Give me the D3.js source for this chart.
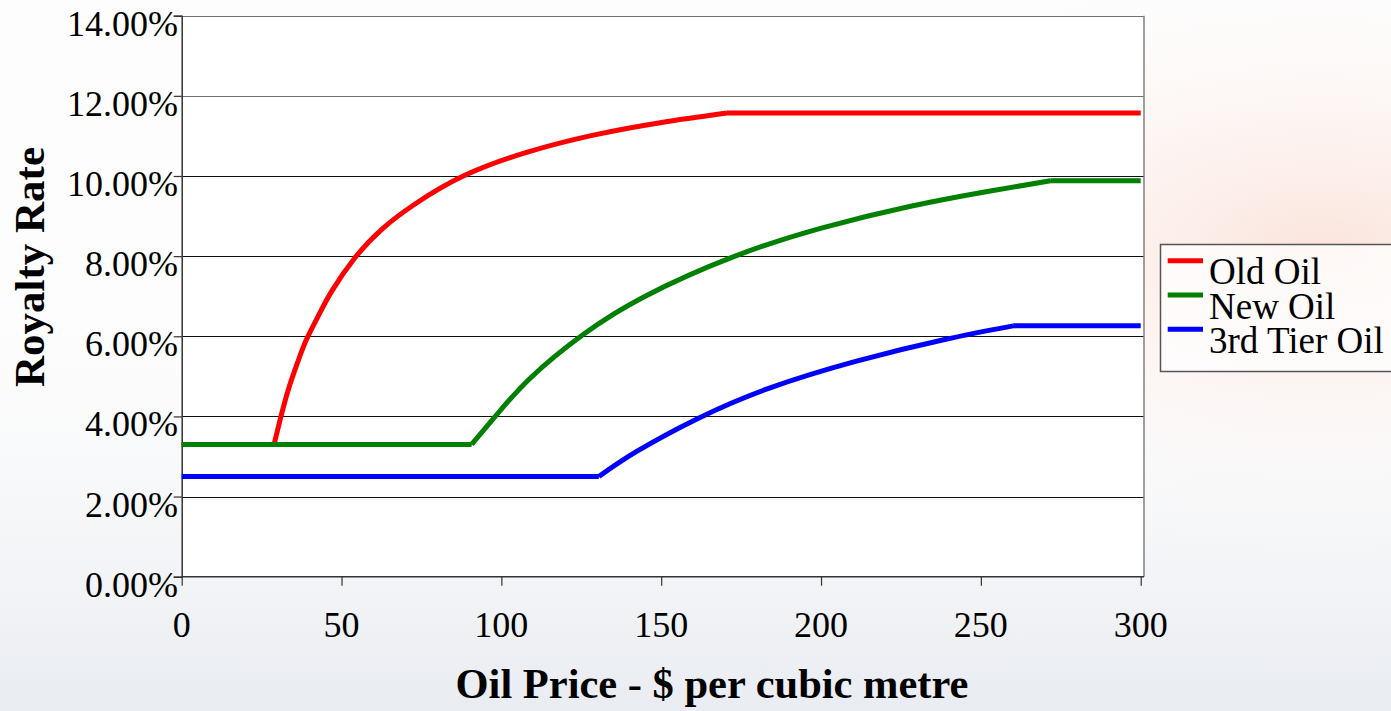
<!DOCTYPE html>
<html>
<head>
<meta charset="utf-8">
<script src="https://cdn.jsdelivr.net/npm/d3@7"></script>
<style>
  html, body { margin: 0; padding: 0; background: #ffffff; }
  svg { display: block; }
  text { font-family: "Liberation Serif", "Times New Roman", serif; fill: #000; }
</style>
</head>
<body>
<svg id="chart" width="1391" height="711"></svg>
<script>
// ---- data ----
const seriesNames = ["Old Oil", "New Oil", "3rd Tier Oil"];
const oldOilPrice = [0, 28.9, 30.8, 33.4, 36.5, 39.1, 42.7, 46.9, 54.2, 62.6, 73.0, 88.4, 107.9, 128.8, 149.7, 170.5, 300];
const oldOilRate  = [3.3, 3.3, 3.92, 4.68, 5.40, 5.93, 6.50, 7.12, 7.96, 8.67, 9.30, 10.01, 10.59, 11.02, 11.33, 11.57, 11.57];
const newOilPrice = [0, 90.7, 98.1, 109.1, 125.7, 145, 172.5, 200.1, 227.7, 252.5, 271.8, 300];
const newOilRate  = [3.3, 3.3, 4.00, 4.96, 6.05, 7.00, 7.98, 8.70, 9.24, 9.62, 9.88, 9.88];
const tierOilPrice = [0, 130.5, 142.2, 161.5, 183.6, 211.1, 238.7, 260.1, 300];
const tierOilRate  = [2.5, 2.5, 3.12, 3.95, 4.70, 5.38, 5.92, 6.26, 6.26];
const xTicks = [0, 50, 100, 150, 200, 250, 300];
const yTicks = [0, 2, 4, 6, 8, 10, 12, 14];
const xTitle = "Oil Price - $ per cubic metre";
const yTitle = "Royalty Rate";
const colors = ["#ff0000", "#008000", "#0000ff"];

const series = [
  { name: seriesNames[0], price: oldOilPrice, rate: oldOilRate, color: colors[0] },
  { name: seriesNames[1], price: newOilPrice, rate: newOilRate, color: colors[1] },
  { name: seriesNames[2], price: tierOilPrice, rate: tierOilRate, color: colors[2] }
];

const svg = d3.select("#chart");
const W = 1391, H = 711;

// ---- background (faint photo-like wash) ----
const defs = svg.append("defs");
const g1 = defs.append("radialGradient").attr("id", "warm")
  .attr("cx", "0.95").attr("cy", "0.35").attr("r", "0.45");
g1.append("stop").attr("offset", "0").attr("stop-color", "#fbe4dc");
g1.append("stop").attr("offset", "1").attr("stop-color", "#ffffff").attr("stop-opacity", 0);
const g2 = defs.append("linearGradient").attr("id", "cool")
  .attr("x1", 0).attr("y1", 0).attr("x2", 0).attr("y2", 1);
g2.append("stop").attr("offset", "0.45").attr("stop-color", "#f3f5f8").attr("stop-opacity", 0);
g2.append("stop").attr("offset", "1").attr("stop-color", "#e9ecf1");
svg.append("rect").attr("width", W).attr("height", H).attr("fill", "#fdfdfd");
svg.append("rect").attr("width", W).attr("height", H).attr("fill", "url(#cool)");
svg.append("rect").attr("width", W).attr("height", H).attr("fill", "url(#warm)");

// ---- scales ----
const x = d3.scaleLinear().domain([0, 300]).range([181.7, 1140.7]);
const y = d3.scaleLinear().domain([0, 14]).range([576.7, 15.7]);
const plotRight = 1144;

// plot area
svg.append("rect")
  .attr("x", x(0)).attr("y", y(14))
  .attr("width", plotRight - x(0)).attr("height", y(0) - y(14))
  .attr("fill", "#ffffff");

// gridlines
svg.append("g").selectAll("line").data(yTicks.filter(d => d > 0)).join("line")
  .attr("x1", x(0)).attr("x2", plotRight)
  .attr("y1", d => Math.round(y(d)) + 0.5).attr("y2", d => Math.round(y(d)) + 0.5)
  .attr("stroke", d => d >= 12 ? "#707070" : "#111")
  .attr("stroke-width", 1.2);

// right border
svg.append("line")
  .attr("x1", plotRight).attr("x2", plotRight)
  .attr("y1", y(14)).attr("y2", y(0))
  .attr("stroke", "#808080").attr("stroke-width", 1.5);

// ---- axes ----
const xAxis = d3.axisBottom(x).tickValues(xTicks).tickSize(9).tickPadding(0).tickFormat(() => "");
const gx = svg.append("g").attr("transform", `translate(0,${y(0)})`).call(xAxis);
gx.select(".domain").attr("d", `M${x(0)},0H${plotRight}`).attr("stroke", "#333").attr("stroke-width", 1.5);
gx.selectAll(".tick line").attr("stroke", "#333").attr("stroke-width", 1.2);
svg.append("g").selectAll("text").data(xTicks).join("text")
  .attr("x", d => x(d)).attr("y", y(0) + 60)
  .attr("text-anchor", "middle").attr("font-size", 36)
  .text(d => d);

const yAxis = d3.axisLeft(y).tickValues(yTicks).tickSize(8).tickFormat(() => "");
const gy = svg.append("g").attr("transform", `translate(${x(0)},0)`).call(yAxis);
gy.select(".domain").attr("stroke", "#333").attr("stroke-width", 1.5);
gy.selectAll(".tick line").attr("stroke", "#333").attr("stroke-width", 1.2);
svg.append("g").selectAll("text").data(yTicks).join("text")
  .attr("x", 178).attr("y", d => y(d) + 20)
  .attr("text-anchor", "end").attr("font-size", 36)
  .text(d => d.toFixed(2) + "%");

// ---- lines ----
const linear = d3.line().x(d => x(d[0])).y(d => y(d[1]));
const smooth = d3.line().x(d => x(d[0])).y(d => y(d[1])).curve(d3.curveNatural);
function pathFor(s) {
  const pts = s.price.map((p, i) => [p, s.rate[i]]);
  let a = 0;
  while (a + 1 < pts.length && pts[a + 1][1] === pts[0][1]) a++;
  let b = pts.length - 1;
  while (b - 1 > a && pts[b - 1][1] === pts[pts.length - 1][1]) b--;
  return linear(pts.slice(0, a + 1)) + smooth(pts.slice(a, b + 1)) + linear(pts.slice(b));
}
svg.append("g").selectAll("path").data(series).join("path")
  .attr("d", d => pathFor(d))
  .attr("fill", "none")
  .attr("stroke", d => d.color)
  .attr("stroke-width", 5)
  .attr("stroke-linejoin", "round");

// ---- titles ----
svg.append("text")
  .attr("x", 712).attr("y", 698)
  .attr("text-anchor", "middle").attr("font-size", 42.5).attr("font-weight", "bold")
  .text(xTitle);
svg.append("text")
  .attr("transform", `translate(44,267) rotate(-90)`)
  .attr("text-anchor", "middle").attr("font-size", 43).attr("font-weight", "bold")
  .text(yTitle);

// ---- legend ----
const lg = svg.append("g");
lg.append("rect")
  .attr("x", 1160.5).attr("y", 244.5).attr("width", 260).attr("height", 127)
  .attr("fill", "#ffffff").attr("fill-opacity", 0.75)
  .attr("stroke", "#555").attr("stroke-width", 1.5);
const items = lg.selectAll("g.item").data(series).join("g").attr("class", "item")
  .attr("transform", (d, i) => `translate(0,${i * 34.3})`);
items.append("line")
  .attr("x1", 1167.7).attr("x2", 1203).attr("y1", 260.7).attr("y2", 260.7)
  .attr("stroke", d => d.color).attr("stroke-width", 5);
items.append("text")
  .attr("x", 1209).attr("y", 284.3).attr("font-size", 37)
  .text(d => d.name);
</script>
</body>
</html>
